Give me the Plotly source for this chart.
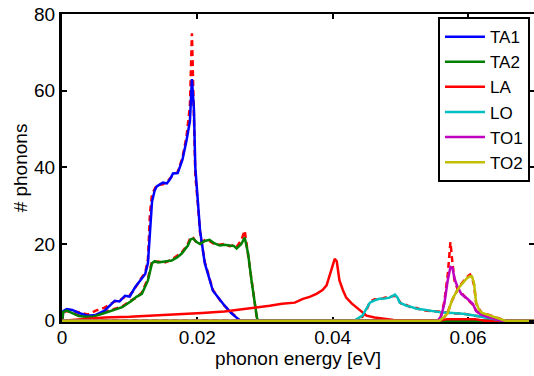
import plotly.graph_objects as go

# ---- data (energy in eV, number of phonons) ----
TA1_E = [0, 0.0002, 0.0007, 0.0015, 0.0025, 0.0038, 0.005, 0.0063, 0.0078, 0.0085, 0.0093, 0.0100, 0.0108,
         0.0116, 0.0123, 0.0127, 0.0130, 0.0133, 0.0137, 0.0140, 0.0149, 0.0155, 0.0160, 0.0164, 0.0171,
         0.0178, 0.0184, 0.0189, 0.0192, 0.0195, 0.0197, 0.0201, 0.0204, 0.0211, 0.0223, 0.0238, 0.0250,
         0.0258, 0.0263, 0.07]
TA1_N = [0, 2.5, 3.0, 2.8, 2.0, 1.3, 1.5, 2.6, 5.2, 5.0, 6.5, 6.3, 8.7,
         10.5, 12.2, 15, 22, 31, 34, 35, 36, 35.8, 37, 38.4, 38.5,
         42, 47, 52, 63, 55, 40, 31, 23.5, 15, 7.8, 4.4, 2.0,
         0.8, 0, 0]
TA1_REF = [0, 2.3, 2.8, 2.6, 2.2, 1.6, 2.6, 3.4, 5.0, 5.3, 6.2, 6.6, 8.5,
           10.8, 12.5, 16, 28, 33, 34.5, 35.3, 35.6, 36.2, 37.2, 38.0, 38.8,
           42.5, 48, 56, 75, 56, 38, 30, 23.0, 15.3, 8.0, 4.2, 2.1,
           0.9, 0, 0]

TA2_E = [0, 0.0002, 0.0007, 0.0015, 0.0025, 0.0035, 0.0045, 0.0063, 0.0075, 0.0089, 0.0103, 0.0110, 0.0118,
         0.0127, 0.0133, 0.0137, 0.0142, 0.0152, 0.0162, 0.0170, 0.0177, 0.0186, 0.0190, 0.0194, 0.0199,
         0.0204, 0.0211, 0.0218, 0.0225, 0.0233, 0.0240, 0.0248, 0.0254, 0.0258, 0.0265, 0.0270, 0.0275,
         0.0280, 0.0288, 0.0290, 0.07]
TA2_N = [0, 2.3, 2.6, 2.0, 1.2, 1.0, 1.0, 2.0, 2.7, 3.5, 5.2, 6.2, 7.0,
         10.5, 15, 15.5, 15.2, 15.4, 15.7, 16.5, 17.5, 19.6, 21.2, 21.4, 20.5,
         20, 20.8, 21.1, 20.2, 19.6, 19.8, 19.6, 19.5, 18.8, 20, 21.7, 17.5,
         10.5, 0.8, 0, 0]
TA2_REF = [0, 2.2, 2.5, 2.1, 1.3, 1.1, 1.2, 2.2, 2.9, 3.7, 5.4, 6.0, 7.3,
           11.0, 15.5, 15.3, 15.4, 15.2, 15.9, 16.8, 17.8, 20.0, 21.8, 21.6, 20.3,
           20.2, 21.0, 20.8, 20.0, 19.8, 20.0, 19.4, 19.7, 19.2, 21, 23.5, 17.0,
           10.0, 0.6, 0, 0]

LA_E = [0, 0.002, 0.0063, 0.010, 0.0137, 0.017, 0.0207, 0.024, 0.027, 0.0307,
        0.0325, 0.0344, 0.0356, 0.0366, 0.0376, 0.0385, 0.0391, 0.0396, 0.0400, 0.0403,
        0.0406, 0.0410, 0.0415, 0.0420, 0.0428, 0.0435, 0.0443, 0.0450, 0.0462, 0.0474,
        0.0490, 0.0503, 0.0555, 0.0570, 0.0610, 0.0625, 0.07]
LA_N = [0, 0.3, 0.8, 1.0, 1.3, 1.6, 2.0, 2.4, 3.0, 3.9,
        4.4, 4.7, 5.7, 6.2, 7.0, 8.0, 9.2, 12.2, 14.5, 16.1,
        15.5, 10.5, 8.0, 6.0, 4.5, 3.5, 2.3, 1.3, 0.8, 0.5,
        0.2, 0, 0, 0.4, 0.4, 0, 0]

LO_E = [0, 0.0432, 0.0444, 0.0450, 0.0455, 0.0462, 0.0469, 0.0477, 0.0484, 0.0492, 0.0496, 0.0499,
        0.0504, 0.0509, 0.0516, 0.0524, 0.0533, 0.0545, 0.0562, 0.0577, 0.0592, 0.0607, 0.0621,
        0.0635, 0.0646, 0.0652, 0.07]
LO_N = [0, 0, 1.3, 3.0, 4.7, 5.3, 5.7, 5.8, 6.0, 6.8, 6.0, 4.7,
        4.2, 3.9, 3.6, 3.1, 2.9, 2.5, 2.1, 2.0, 1.8, 1.4, 1.0,
        0.6, 0.3, 0, 0]
LO_REF = [0, 0, 1.0, 2.8, 4.9, 5.6, 5.5, 6.0, 6.2, 6.5, 6.2, 4.9,
          4.0, 4.1, 3.4, 3.3, 2.7, 2.6, 2.3, 1.9, 1.9, 1.3, 1.1,
          0.7, 0.3, 0, 0]

TO1_E = [0, 0.0555, 0.0560, 0.0565, 0.0570, 0.0574, 0.0577, 0.0580, 0.0584, 0.0590, 0.0599,
         0.0607, 0.0612, 0.0620, 0.0632, 0.0642, 0.0650, 0.07]
TO1_N = [0, 0, 1.0, 4.4, 10.5, 14.0, 13.8, 11.0, 9.0, 7.0, 5.7,
         4.4, 2.5, 1.5, 0.8, 0.3, 0, 0]
TO1_REF = [0, 0, 1.2, 5.0, 12.0, 20.5, 15.0, 10.5, 8.5, 7.2, 5.5,
           4.2, 2.6, 1.4, 0.9, 0.3, 0, 0]

TO2_E = [0, 0.0558, 0.0565, 0.0570, 0.0577, 0.0587, 0.0598, 0.0603, 0.0606, 0.0609, 0.0612,
         0.0616, 0.0620, 0.0628, 0.0636, 0.0649, 0.0655, 0.07]
TO2_N = [0, 0, 1.0, 2.0, 5.7, 8.7, 11.0, 11.6, 11.5, 9.6, 4.7,
         3.0, 2.1, 1.6, 1.3, 0.3, 0, 0]
TO2_REF = [0, 0, 0.9, 2.2, 5.5, 8.9, 11.3, 12.0, 11.2, 9.2, 4.5,
           3.1, 2.0, 1.7, 1.2, 0.3, 0, 0]

BRANCHES = ["TA1", "TA2", "LA", "LO", "TO1", "TO2"]
COLORS = ["#0000FF", "#008000", "#FF0000", "#00BFBF", "#BF00BF", "#BFBF00"]
X_TICKS = [0, 0.02, 0.04, 0.06]
X_TICK_TEXT = ["0", "0.02", "0.04", "0.06"]
Y_TICKS = [0, 20, 40, 60, 80]

FONT = "Liberation Sans, Arial, sans-serif"

fig = go.Figure()

# reference (dashed red) curves drawn first
for ex, ny in [(TA1_E, TA1_REF), (TA2_E, TA2_REF), (LO_E, LO_REF), (TO1_E, TO1_REF), (TO2_E, TO2_REF)]:
    fig.add_trace(go.Scatter(x=ex, y=ny, mode="lines", showlegend=False, hoverinfo="skip",
                             line=dict(color="#FF0000", width=2.5, dash="6px,4px")))

series = [(TA1_E, TA1_N), (TA2_E, TA2_N), (LA_E, LA_N), (LO_E, LO_N), (TO1_E, TO1_N), (TO2_E, TO2_N)]
for (ex, ny), name, col in zip(series, BRANCHES, COLORS):
    fig.add_trace(go.Scatter(x=ex, y=ny, mode="lines", name=name,
                             line=dict(color=col, width=2.5)))

# invisible trace to carry right-side ticks
fig.add_trace(go.Scatter(x=[0], y=[0], yaxis="y2", mode="lines", showlegend=False,
                         hoverinfo="skip", line=dict(width=0)))

fig.update_layout(
    width=534, height=376,
    margin=dict(l=62, r=0, t=14, b=54),
    paper_bgcolor="white", plot_bgcolor="white",
    font=dict(family=FONT, size=19, color="black"),
    xaxis=dict(range=[0, 0.06975], tickvals=X_TICKS, ticktext=X_TICK_TEXT,
               showgrid=False, zeroline=False, showline=True, linecolor="black", linewidth=2,
               mirror="ticks", ticks="inside", ticklen=5, tickwidth=2, tickcolor="black",
               layer="below traces", ticklabelstandoff=-3,
               title=dict(text="phonon energy [eV]", font=dict(size=19), standoff=0)),
    yaxis=dict(range=[-0.35, 80], tickvals=Y_TICKS, showgrid=False, zeroline=False,
               showline=True, linecolor="black", linewidth=3, mirror=False,
               ticks="inside", ticklen=5, tickwidth=2, tickcolor="black",
               layer="below traces",
               title=dict(text="# phonons", font=dict(size=19), standoff=2)),
    yaxis2=dict(range=[-0.35, 80], tickvals=Y_TICKS, overlaying="y", side="right",
                showgrid=False, zeroline=False, showline=False, showticklabels=False,
                ticks="inside", ticklen=5, tickwidth=2, tickcolor="black"),
    legend=dict(x=0.9915, xanchor="right", y=0.99, yanchor="top",
                bgcolor="white", bordercolor="black", borderwidth=2, itemwidth=40,
                font=dict(family=FONT, size=17), tracegroupgap=0),
    showlegend=True,
)

fig.write_html("out.html")
